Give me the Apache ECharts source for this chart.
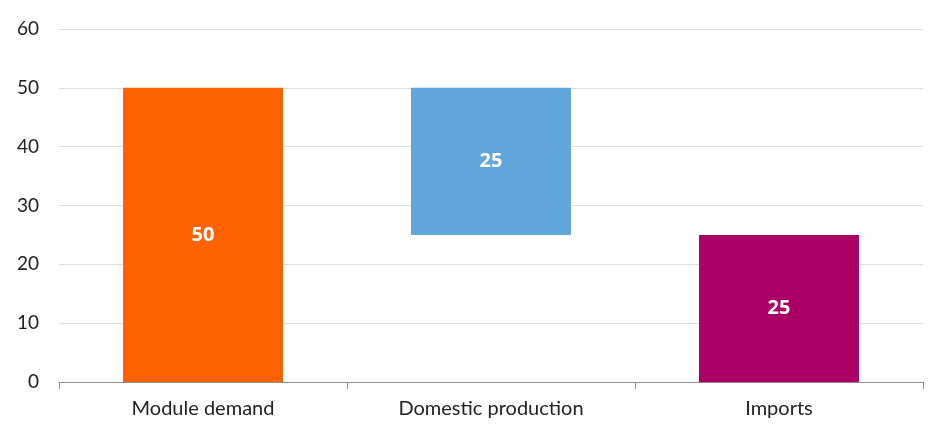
<!DOCTYPE html>
<html>
<head>
<meta charset="utf-8">
<script src="https://cdn.jsdelivr.net/npm/echarts@6/dist/echarts.min.js"></script>
<style>html,body{margin:0;padding:0;background:#fff;}#c{width:952px;height:439px;}</style>
</head>
<body>
<div id="c"></div>
<script>
const categories = ['Module demand', 'Domestic production', 'Imports'];
const baseValues = [0, 25, 0];
const barValues = [50, 25, 25];
const barColors = ['#FF6200', '#60A6DA', '#AB0066'];
const yTicks = [0, 10, 20, 30, 40, 50, 60];

const chart = echarts.init(document.getElementById('c'));
chart.setOption({
  animation: false,
  grid: { left: 59, right: 29, top: 29, bottom: 57 },
  xAxis: {
    type: 'category',
    data: categories,
    axisLine: { lineStyle: { color: '#8c8c8c', width: 1 } },
    axisTick: { show: true, length: 7, lineStyle: { color: '#8c8c8c' } },
    axisLabel: { color: '#222', fontSize: 20, fontFamily: 'Lato, "Open Sans", sans-serif', margin: 17 }
  },
  yAxis: {
    type: 'value',
    min: yTicks[0],
    max: yTicks[yTicks.length - 1],
    interval: 10,
    axisLine: { show: false },
    axisTick: { show: false },
    splitLine: { lineStyle: { color: '#dedede', width: 1 } },
    axisLabel: { color: '#222', fontSize: 19, fontFamily: 'Lato, "Open Sans", sans-serif', margin: 20 }
  },
  series: [
    {
      type: 'bar',
      stack: 'w',
      data: baseValues,
      itemStyle: { color: 'transparent' },
      silent: true,
      barWidth: 160
    },
    {
      type: 'bar',
      stack: 'w',
      barWidth: 160,
      data: barValues.map((v, i) => ({ value: v, itemStyle: { color: barColors[i] } })),
      label: {
        show: true,
        position: 'inside',
        color: '#fff',
        fontWeight: 'bold',
        fontSize: 20,
        fontFamily: '"Open Sans", Lato, sans-serif'
      }
    }
  ]
});
</script>
</body>
</html>
